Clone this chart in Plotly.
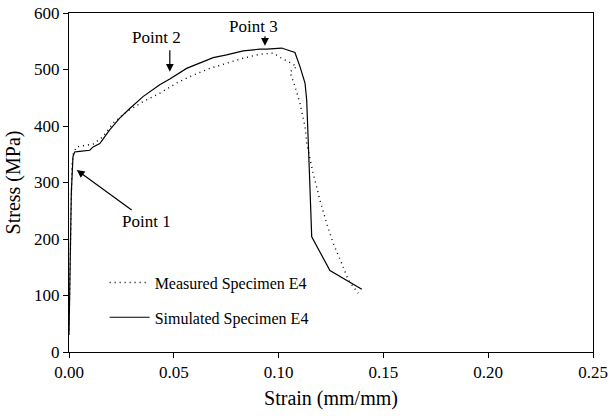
import plotly.graph_objects as go

# Measured specimen E4 (dotted)
meas_strain = [0.0, 0.0008, 0.0014, 0.0020, 0.0035, 0.0115, 0.0162, 0.0210, 0.0274, 0.0353,
               0.0433, 0.0513, 0.0592, 0.0672, 0.0752, 0.0831, 0.0911, 0.0974, 0.1014,
               0.1062, 0.1086, 0.1054, 0.1078, 0.1102, 0.1126, 0.1134, 0.1165, 0.1197,
               0.1229, 0.1261, 0.1301, 0.1333, 0.1380]
meas_stress = [40, 250, 330, 350, 363, 368, 381, 405, 425, 443,
               458, 476, 490, 502, 511, 520, 527, 529, 520,
               511, 505, 496, 470, 440, 399, 369, 316, 269,
               228, 192, 157, 127, 104]

# Simulated specimen E4 (solid)
sim_strain = [0.0, 0.0011, 0.0019, 0.0027, 0.0050, 0.0099, 0.0115, 0.0147, 0.0194, 0.0242,
              0.0290, 0.0353, 0.0433, 0.0481, 0.0561, 0.0624, 0.0688, 0.0752, 0.0831,
              0.0911, 0.0943, 0.1014, 0.1078, 0.1102, 0.1126, 0.1134, 0.1141, 0.1146,
              0.1158, 0.1245, 0.1397]
sim_stress = [30, 281, 346, 354, 355, 357, 363, 369, 393, 414,
              431, 452, 473, 483, 502, 511, 521, 526, 533,
              536, 536, 538, 530, 505, 476, 446, 358, 328,
              204, 144, 111]

x_ticks = [0.00, 0.05, 0.10, 0.15, 0.20, 0.25]
y_ticks = [0, 100, 200, 300, 400, 500, 600]

FONT = "Liberation Serif, Times New Roman, serif"

fig = go.Figure()
fig.add_trace(go.Scatter(x=meas_strain, y=meas_stress, mode="lines",
                         name="Measured Specimen E4", legendgroup="a",
                         line=dict(color="black", width=1.4, dash="1px,4px")))
fig.add_trace(go.Scatter(x=sim_strain, y=sim_stress, mode="lines",
                         name="Simulated Specimen E4", legendgroup="b",
                         line=dict(color="black", width=1.2)))

ann_font = dict(family=FONT, size=17, color="black")
fig.add_annotation(x=0.0037, y=322, text="Point 1", showarrow=True, ax=70, ay=51,
                   arrowhead=2, arrowsize=1.3, arrowwidth=1.2, arrowcolor="black", font=ann_font)
fig.add_annotation(x=0.0481, y=496, text="", showarrow=True, ax=0, ay=-23,
                   arrowhead=2, arrowsize=1.3, arrowwidth=1.2, arrowcolor="black")
fig.add_annotation(x=0.0481, y=496, text="Point 2", showarrow=False, xshift=-13, yshift=34,
                   font=ann_font)
fig.add_annotation(x=0.0935, y=542, text="", showarrow=True, ax=0, ay=-11,
                   arrowhead=2, arrowsize=1.3, arrowwidth=1.2, arrowcolor="black")
fig.add_annotation(x=0.0935, y=542, text="Point 3", showarrow=False, xshift=-11, yshift=19,
                   font=ann_font)

fig.update_layout(
    width=611, height=418,
    margin=dict(l=69, r=18, t=13, b=66),
    paper_bgcolor="white", plot_bgcolor="white",
    font=dict(family=FONT, color="black"),
    legend=dict(x=0.068, y=0.255, xanchor="left", yanchor="top",
                font=dict(family=FONT, size=16), bgcolor="rgba(0,0,0,0)",
                traceorder="grouped", tracegroupgap=11, itemwidth=40),
    xaxis=dict(range=[0, 0.25], tickvals=x_ticks, tickformat=".2f", automargin=False,
               showgrid=False, zeroline=False, showline=True, mirror=True,
               linecolor="black", linewidth=1, ticks="outside", ticklen=5,
               tickcolor="black", tickfont=dict(family=FONT, size=17),
               title=dict(text="Strain (mm/mm)", font=dict(family=FONT, size=20), standoff=9)),
    yaxis=dict(range=[0, 600], tickvals=y_ticks, automargin=False,
               showgrid=False, zeroline=False, showline=True, mirror=True,
               linecolor="black", linewidth=1, ticks="outside", ticklen=5,
               tickcolor="black", tickfont=dict(family=FONT, size=17),
               title=dict(text="Stress (MPa)", font=dict(family=FONT, size=20), standoff=8)),
)

fig.write_html("out.html", config={"displayModeBar": False},
               post_script="document.body.style.margin='0';")
